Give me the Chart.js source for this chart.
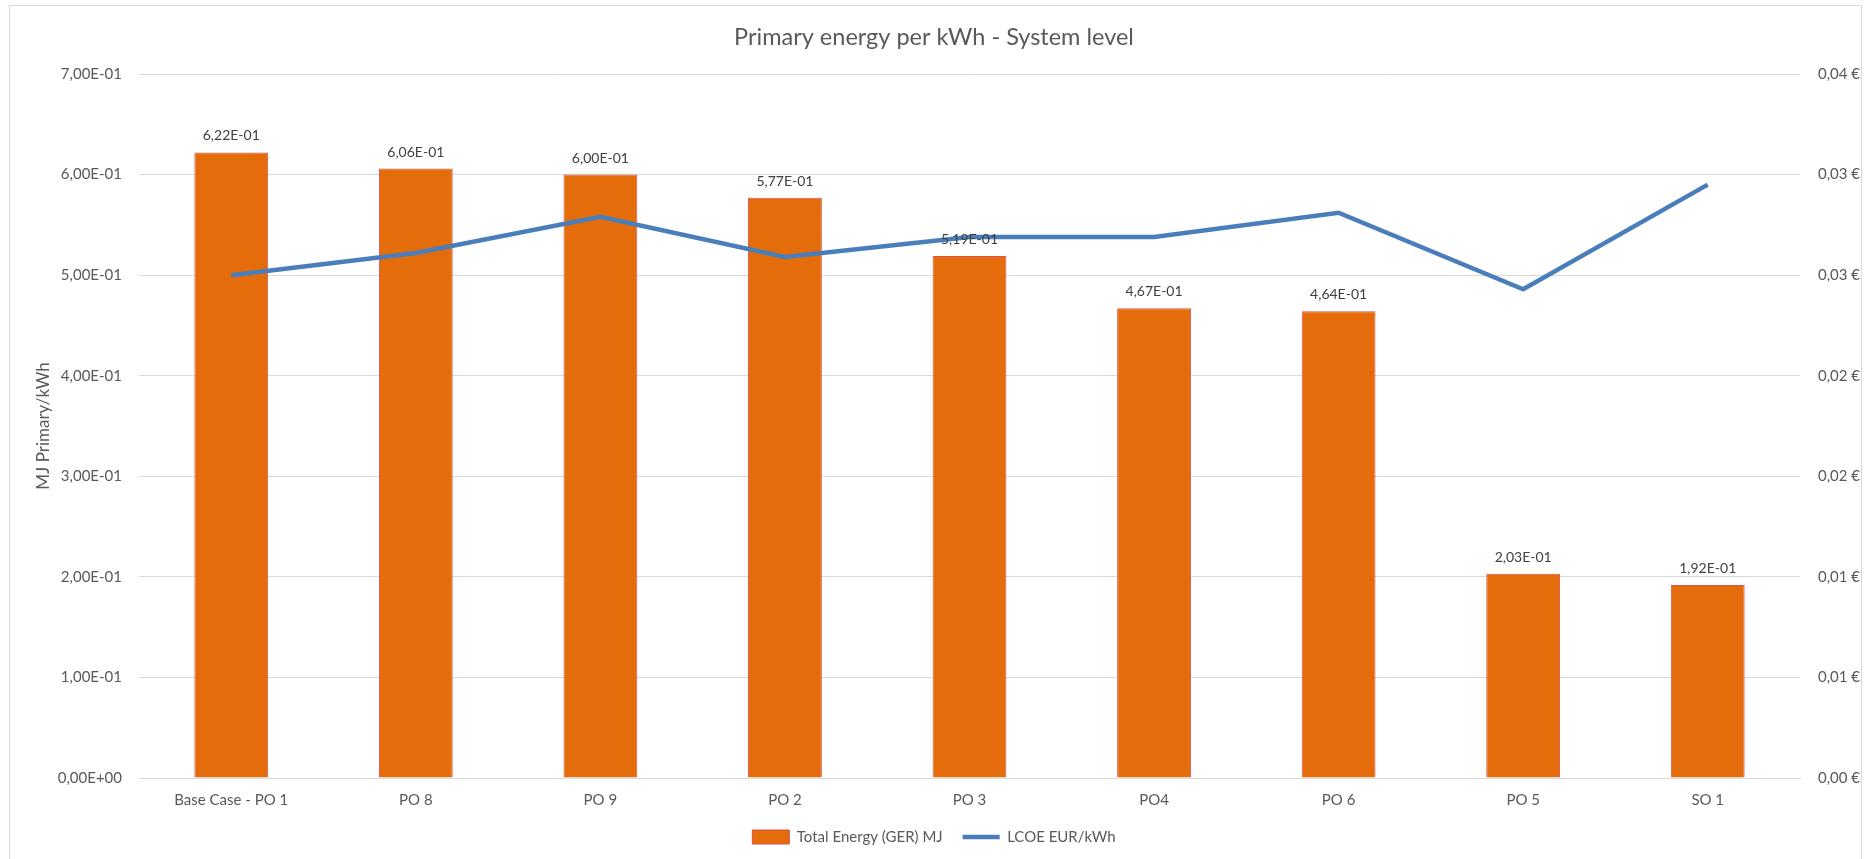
<!DOCTYPE html>
<html>
<head>
<meta charset="utf-8">
<script src="https://cdn.jsdelivr.net/npm/chart.js@4"></script>
<style>
  html, body { margin: 0; padding: 0; background: #fff; overflow: hidden; }
  #chart { position: absolute; left: 0; top: 0; display: block; }
  #frame {
    position: absolute; left: 9px; top: 5px;
    width: 1853px; height: 870px;
    border: 1px solid #d9d9d9; box-sizing: border-box;
    pointer-events: none;
  }
</style>
</head>
<body>
<canvas id="chart" width="1868" height="859"></canvas>
<div id="frame"></div>
<script>
// categories and series
const scenarios = ['Base Case - PO 1', 'PO 8', 'PO 9', 'PO 2', 'PO 3', 'PO4', 'PO 6', 'PO 5', 'SO 1'];
const totalEnergy = [0.622, 0.606, 0.600, 0.577, 0.519, 0.467, 0.464, 0.203, 0.192];
const lcoe = [0.0250, 0.0261, 0.0279, 0.0259, 0.0269, 0.0269, 0.0281, 0.0243, 0.0295];

const FONT = 'Lato, "Open Sans", sans-serif';
const GREY = '#595959';

// 6.22e-1 -> "6,22E-01"
function sci(v) {
  const parts = v.toExponential(2).split('e');
  const exp = parseInt(parts[1], 10);
  return parts[0].replace('.', ',') + 'E' + (exp < 0 ? '-' : '+') + String(Math.abs(exp)).padStart(2, '0');
}

function euro(v) {
  const r = Math.round(v * 100 + 1e-9) / 100;
  return r.toFixed(2).replace('.', ',') + ' €';
}

// value labels above the bars
const barLabels = {
  id: 'barLabels',
  afterDatasetsDraw(chart) {
    const ctx = chart.ctx;
    const meta = chart.getDatasetMeta(0);
    ctx.save();
    ctx.font = '14px ' + FONT;
    ctx.fillStyle = '#404040';
    ctx.textAlign = 'center';
    ctx.textBaseline = 'alphabetic';
    meta.data.forEach((bar, i) => {
      ctx.fillText(sci(totalEnergy[i]), bar.x, bar.y - 12);
    });
    ctx.restore();
  }
};

new Chart(document.getElementById('chart'), {
  data: {
    labels: scenarios,
    datasets: [
      {
        type: 'bar',
        label: 'Total Energy (GER) MJ',
        data: totalEnergy,
        backgroundColor: '#e46c0a',
        borderColor: '#d9534f',
        borderWidth: 1,
        barPercentage: 0.4,
        categoryPercentage: 1,
        pointStyle: 'rect',
        yAxisID: 'y',
        order: 1
      },
      {
        type: 'line',
        label: 'LCOE EUR/kWh',
        data: lcoe,
        borderColor: '#4a7ebb',
        backgroundColor: '#4a7ebb',
        borderWidth: 4.5,
        pointRadius: 0,
        pointStyle: 'line',
        tension: 0,
        yAxisID: 'y1',
        order: 0
      }
    ]
  },
  options: {
    responsive: false,
    animation: false,
    layout: { padding: { top: 0, left: 0, right: 0, bottom: 4.5 } },
    scales: {
      x: {
        grid: { display: false, drawTicks: false },
        border: { color: '#d9d9d9' },
        ticks: { color: GREY, font: { family: FONT, size: 15 }, padding: 13, maxRotation: 0 },
        afterFit(s) { s.height = 31.5; }
      },
      y: {
        position: 'left',
        min: 0, max: 0.7,
        grid: { color: '#d9d9d9', drawTicks: false },
        border: { display: false },
        ticks: {
          stepSize: 0.1, padding: 17, color: GREY,
          font: { family: FONT, size: 15 },
          callback: (v) => sci(v)
        },
        title: {
          display: true, text: 'MJ Primary/kWh', color: GREY,
          font: { family: FONT, size: 17 },
          padding: { top: 33, bottom: 0 }
        },
        afterFit(s) { s.width = 139; }
      },
      y1: {
        position: 'right',
        min: 0, max: 0.035,
        grid: { drawOnChartArea: false, drawTicks: false },
        border: { display: false },
        ticks: {
          stepSize: 0.005, padding: 18, color: GREY,
          font: { family: FONT, size: 15 },
          callback: (v) => euro(v)
        },
        afterFit(s) { s.width = 68; }
      }
    },
    plugins: {
      title: {
        display: true,
        text: 'Primary energy per kWh - System level',
        color: GREY,
        font: { family: FONT, size: 23.5, weight: 'normal' },
        padding: { top: 23, bottom: 22.8 }
      },
      legend: {
        position: 'bottom',
        labels: {
          color: GREY,
          font: { family: FONT, size: 15 },
          usePointStyle: true,
          pointStyleWidth: 37,
          boxHeight: 14,
          padding: 20,
          sort: (a, b) => a.datasetIndex - b.datasetIndex
        }
      },
      tooltip: { enabled: false }
    }
  },
  plugins: [barLabels]
});
</script>
</body>
</html>
